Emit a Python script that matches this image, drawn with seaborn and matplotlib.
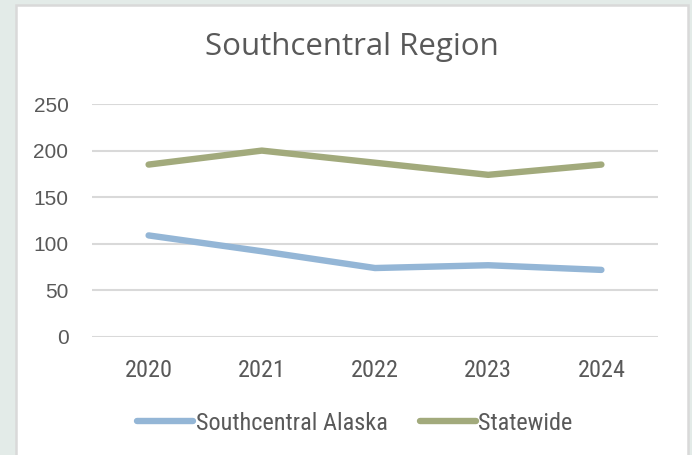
import matplotlib
matplotlib.use("Agg")
import matplotlib.pyplot as plt
import seaborn as sns
import pandas as pd
from matplotlib import font_manager
from matplotlib.patches import Rectangle
from matplotlib.lines import Line2D

years = ["2020", "2021", "2022", "2023", "2024"]
southcentral = [109, 92, 74, 77, 72]
statewide = [185, 200, 187, 174, 185]
series_names = ["Southcentral Alaska", "Statewide"]
y_ticks = [0, 50, 100, 150, 200, 250]
title_text = "Southcentral Region"

df = pd.DataFrame({
    "Year": years * 2,
    "Value": southcentral + statewide,
    "Series": [series_names[0]] * len(years) + [series_names[1]] * len(years),
})

sns.set_theme(style="white")
names = {f.name for f in font_manager.fontManager.ttflist}
def pick(*cands):
    for c in cands:
        if c in names:
            return c
    return "DejaVu Sans"
narrow = pick("Liberation Sans Narrow", "Roboto Condensed", "Roboto", "Liberation Sans")
regular = pick("Liberation Sans", "Arimo")
title_font = pick("Open Sans", "Noto Sans", "Liberation Sans")
plt.rcParams["font.family"] = [regular, "DejaVu Sans"]

W, H = 692, 455
fig = plt.figure(figsize=(W / 100, H / 100), dpi=100, facecolor="#E3EBE8")
bg = Rectangle((16 / W, -0.05), (688 - 16) / W, 1 - 5 / H + 0.05,
               transform=fig.transFigure, facecolor="white",
               edgecolor="#D9D9D9", linewidth=1.8, zorder=-10)
fig.patches.append(bg)

ax = fig.add_axes([92 / W, 1 - 337 / H, (658 - 92) / W, (337 - 104) / H])
ax.set_zorder(2)
ax.set_facecolor("none")
palette = {series_names[0]: "#94B6D6", series_names[1]: "#A2AA7C"}
sns.lineplot(data=df, x="Year", y="Value", hue="Series", palette=palette,
             linewidth=4.6, ax=ax, legend=False, sort=False)
for ln in ax.lines:
    ln.set_solid_capstyle("round")
    ln.set_solid_joinstyle("round")

ax.set_xlim(-0.5, len(years) - 0.5)
ax.set_ylim(0, 250)
ax.set_yticks(y_ticks)
ax.set_yticklabels([str(t) for t in y_ticks], fontsize=15, color="#595959", family=regular)
ax.set_xticks(range(len(years)))
ax.set_xticklabels(years, fontsize=17.5, color="#595959", family=narrow)
ax.tick_params(axis="y", length=0, pad=17)
ax.tick_params(axis="x", length=0, pad=16)
ax.grid(axis="y", color="#D9D9D9", linewidth=1.5)
ax.grid(axis="x", visible=False)
ax.set_axisbelow(True)
for s in ax.spines.values():
    s.set_visible(False)
ax.set_xlabel("")
ax.set_ylabel("")

fig.text(352 / W, 1 - 47 / H, title_text, ha="center", va="center",
         fontsize=22.5, color="#595959", family=title_font)

handles = [Line2D([0], [0], color=palette[n], linewidth=4.6, solid_capstyle="round")
           for n in series_names]
fig.legend(handles, series_names, loc="center", bbox_to_anchor=(355 / W, 1 - 423 / H),
           ncol=2, frameon=False, handlelength=2.3, handletextpad=0.12,
           columnspacing=1.3, prop={"family": narrow, "size": 17.5},
           labelcolor="#595959")

fig.savefig("out.png", dpi=100, facecolor=fig.get_facecolor())
